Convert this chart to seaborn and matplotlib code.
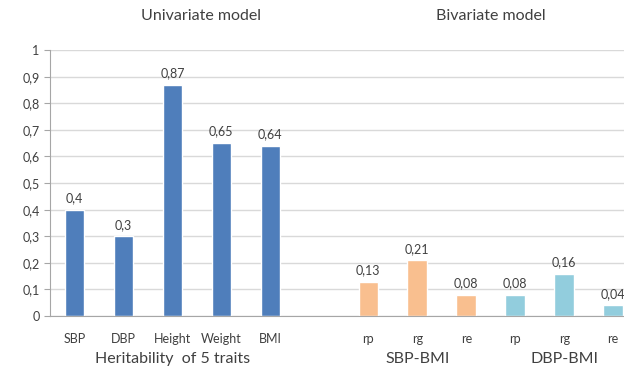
import numpy as np
import pandas as pd
import matplotlib
matplotlib.use("Agg")
import matplotlib.pyplot as plt
import seaborn as sns

sns.set_style("white")
plt.rcParams['font.family'] = ['Lato', 'DejaVu Sans']

# data
uni_traits = ["SBP", "DBP", "Height", "Weight", "BMI"]
uni_values = [0.4, 0.3, 0.87, 0.65, 0.64]
bi_params = ["rp", "rg", "re"]
sbp_bmi_values = [0.13, 0.21, 0.08]
dbp_bmi_values = [0.08, 0.16, 0.04]

group_colors = {"uni": "#4F7EBB", "sbp": "#F9BF8F", "dbp": "#92CDDD", "gap": "white"}

rows = []
for t, v in zip(uni_traits, uni_values):
    rows.append(("uni_" + t, t, v, "uni"))
rows.append(("gap", "", np.nan, "gap"))
for t, v in zip(bi_params, sbp_bmi_values):
    rows.append(("sbp_" + t, t, v, "sbp"))
for t, v in zip(bi_params, dbp_bmi_values):
    rows.append(("dbp_" + t, t, v, "dbp"))
df = pd.DataFrame(rows, columns=["key", "label", "value", "group"])

fig = plt.figure(figsize=(6.24, 3.71), dpi=100)
ax = fig.add_axes([0.08, 0.148, 0.92, 0.717])

sns.barplot(data=df, x="key", y="value", hue="group", palette=group_colors,
            order=df["key"].tolist(), dodge=False, width=0.4, legend=False,
            ax=ax, saturation=1)

for cont in ax.containers:
    vals = [b.get_height() for b in cont]
    labs = ["" if np.isnan(h) else ("%g" % h).replace(".", ",") for h in vals]
    anns = ax.bar_label(cont, labels=labs, padding=4, fontsize=9, color="#404040")
    for a in anns:
        a.set_clip_on(True)

yt = np.round(np.arange(0, 1.01, 0.1), 1)
ax.set_yticks(yt)
ax.set_yticklabels([("%g" % v).replace(".", ",") for v in yt], fontsize=9, color="#404040")
ax.yaxis.grid(True, color="#D9D9D9", linewidth=1)
ax.set_axisbelow(True)

ax.set_xticks(range(len(df)))
ax.set_xticklabels(df["label"], fontsize=9, color="#404040")
ax.set_xticks(np.arange(-0.5, 11, 1), minor=True)
ax.tick_params(axis="x", which="major", length=0, pad=12)
ax.tick_params(axis="x", which="minor", length=4, color="#A6A6A6", direction="out")
ax.tick_params(axis="y", length=4, color="#A6A6A6", direction="out", left=True)
ax.set_xlabel("")
ax.set_ylabel("")
# right edge cuts through the last bar, as in the original
ax.set_xlim(-0.5, 11.22)
ax.set_ylim(0, 1)

for s in ["top", "right"]:
    ax.spines[s].set_visible(False)
for s in ["left", "bottom"]:
    ax.spines[s].set_color("#A6A6A6")

# group labels and titles
tr = ax.get_xaxis_transform()
ax.text(2, -0.162, "Heritability  of 5 traits", transform=tr, ha="center", va="center", fontsize=11.5, color="#404040")
ax.text(7, -0.162, "SBP-BMI", transform=tr, ha="center", va="center", fontsize=11.5, color="#404040")
ax.text(10, -0.162, "DBP-BMI", transform=tr, ha="center", va="center", fontsize=11.5, color="#404040")
fig.text(0.322, 0.958, "Univariate model", ha="center", va="center", fontsize=11.5, color="#404040")
fig.text(0.787, 0.958, "Bivariate model", ha="center", va="center", fontsize=11.5, color="#404040")

plt.savefig("out.png", dpi=100)
